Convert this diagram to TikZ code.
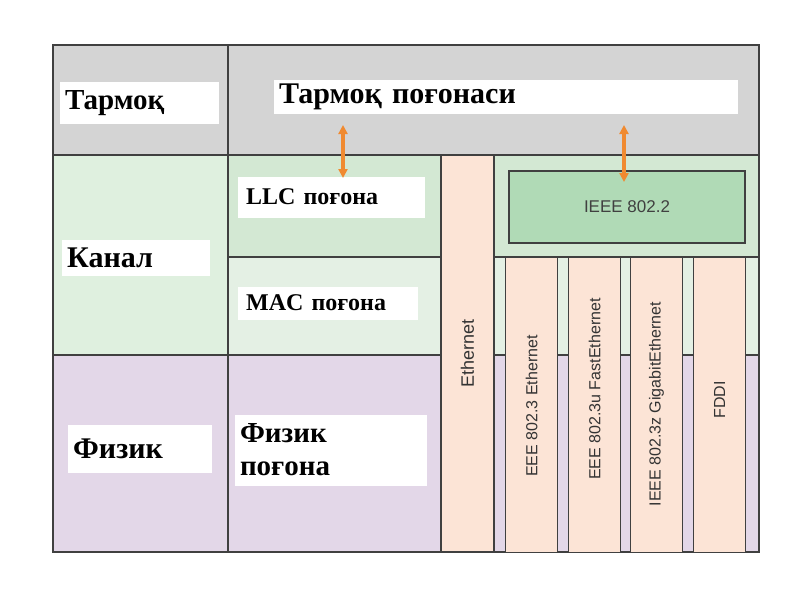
\documentclass[tikz,border=0pt]{standalone}
\usepackage{fontspec}
\setmainfont{Liberation Serif}
\newfontfamily\lsans{Liberation Sans}
\usetikzlibrary{arrows.meta}
\definecolor{gr}{HTML}{D4D4D4}
\definecolor{gk}{HTML}{DFF0DF}
\definecolor{gl}{HTML}{D3E8D3}
\definecolor{gm}{HTML}{E4F0E4}
\definecolor{lv}{HTML}{E3D7E8}
\definecolor{pc}{HTML}{FCE4D6}
\definecolor{ie}{HTML}{B0DAB6}
\definecolor{ar}{HTML}{F08A30}
\tikzset{cell/.style={draw=black!75,line width=1.2pt},
 lab/.style={fill=white,inner sep=0pt,anchor=west,align=left},
 vl/.style={rotate=90,font=\lsans\fontsize{16}{18}\selectfont,text=black!80},
 dar/.style={{Triangle[length=9pt,width=9pt]}-{Triangle[length=9pt,width=9pt]},draw=ar,line width=3.5pt}}
\begin{document}
\begin{tikzpicture}[x=1pt,y=-1pt]
\useasboundingbox[fill=white] (0,0) rectangle (800,600);
\fill[gr] (53,45) rectangle (759,155);
\fill[gk] (53,155) rectangle (228,355);
\fill[lv] (53,355) rectangle (228,552);
\fill[gl] (228,155) rectangle (441,257);
\fill[gm] (228,257) rectangle (441,355);
\fill[lv] (228,355) rectangle (441,552);
\fill[gl] (494,155) rectangle (759,257);
\fill[gm] (494,257) rectangle (759,355);
\fill[lv] (494,355) rectangle (759,552);
\draw[cell] (53,45) rectangle (759,552);
\draw[cell] (53,155) -- (759,155);
\draw[cell] (53,355) -- (441,355);
\draw[cell] (228,45) -- (228,552);
\draw[cell] (228,257) -- (441,257);
\draw[cell] (494,257) -- (759,257);
\foreach \a/\b in {494/505,556/568,619/630,682/693,745/759}{
 \draw[cell] (\a,355) -- (\b,355);}
\node[cell,fill=pc,minimum width=53pt,minimum height=397pt,inner sep=0pt] (eth) at (467.5,353.5) {};
\node[vl,font=\lsans\fontsize{18}{20}\selectfont] at (eth) {Ethernet};
\node[cell,fill=ie,minimum width=236pt,minimum height=72pt,inner sep=0pt] (ieee) at (627,207) {};
\node[font=\lsans\fontsize{17}{19}\selectfont,text=black!75] at (ieee) {IEEE 802.2};
\foreach \n/\a in {c1/505,c2/568,c3/630,c4/693}{
 \node[cell,fill=pc,minimum width=52pt,minimum height=295pt,inner sep=0pt,anchor=north west] (\n) at (\a,257) {};
}
\node[vl] at ([yshift=-1pt]c1.center) {EEE 802.3 Ethernet};
\node[vl] at ([yshift=16pt]c2.center) {EEE 802.3u FastEthernet};
\node[vl] at ([yshift=1pt]c3.center) {IEEE 802.3z GigabitEthernet};
\node[vl] at ([yshift=5pt]c4.center) {FDDI};
\draw[cell] (759,257) -- (759,552);
% labels
\node[lab,text width=159pt,minimum height=42pt,font=\bfseries\fontsize{29}{30}\selectfont] (t1) at (60,103) {\,Тармоқ};
\node[lab,text width=464pt,minimum height=34pt,font=\bfseries\fontsize{30}{31}\selectfont] (t2) at (274,97) {\,Тармоқ поғонаси};
\node[lab,text width=187pt,minimum height=41pt,font=\bfseries\fontsize{24}{26}\selectfont] (llc) at (238,197) {\,\,LLC поғона};
\node[lab,text width=148pt,minimum height=36pt,font=\bfseries\fontsize{30}{31}\selectfont] (kan) at (62,258) {\,Канал};
\node[lab,text width=180pt,minimum height=33pt,font=\bfseries\fontsize{24}{26}\selectfont] (mac) at (238,303) {\,\,MAC поғона};
\node[lab,text width=144pt,minimum height=48pt,font=\bfseries\fontsize{30}{31}\selectfont] (fiz) at (68,449) {\,Физик};
\node[lab,text width=192pt,minimum height=71pt,font=\bfseries\fontsize{29}{33}\selectfont] (fp) at (235,450) {\,Физик\\\,поғона};
\coordinate (a1) at (343,125); \coordinate (a2) at (343,178);
\coordinate (b1) at (624,125); \coordinate (b2) at (624,182);
\draw[dar] (a1) -- (a2);
\draw[dar] (b1) -- (b2);
\end{tikzpicture}
\end{document}
